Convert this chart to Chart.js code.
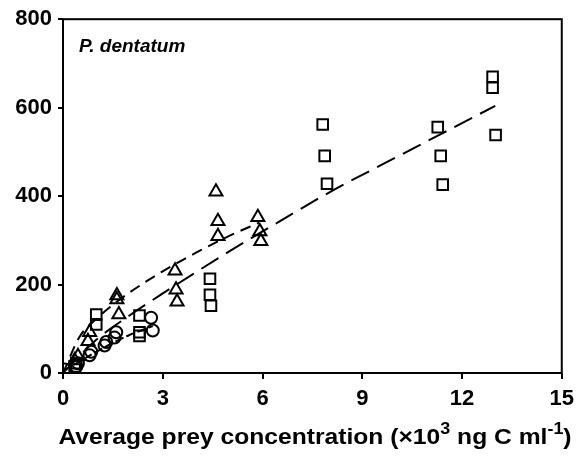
<!DOCTYPE html>
<html>
<head>
<meta charset="utf-8">
<script src="https://cdn.jsdelivr.net/npm/chart.js@4.4.1/dist/chart.umd.min.js"></script>
<style>
  body { margin: 0; background: #fff; }
  #wrap { width: 581px; height: 459px; }
</style>
</head>
<body>
<div id="wrap"><canvas id="myChart" width="581" height="459"></canvas></div>
<script>
// values (x = prey conc x10^3, y = ingestion)
var circleX = [0.05, 0.4, 0.45, 0.8, 0.85, 1.25, 1.3, 1.55, 1.6, 2.65, 2.7];
var circleY = [8, 14, 22, 40, 48, 62, 70, 80, 92, 125, 96];

var triX = [0.35, 0.45, 0.75, 0.8, 1.62, 1.62, 1.68, 3.37, 3.4, 3.43, 4.6, 4.66, 4.66, 5.86, 5.92, 5.95];
var triY = [28, 38, 72, 92, 175, 166, 132, 231, 188, 161, 410, 343, 309, 352, 320, 298];

var sqX = [0.35, 0.4, 1.0, 1.0, 2.3, 2.3, 2.3, 4.42, 4.42, 4.45, 7.81, 7.87, 7.94, 11.27, 11.36, 11.42, 12.92, 12.92, 13.01];
var sqY = [15, 22, 132, 110, 130, 92, 84, 213, 177, 152, 562, 491, 428, 556, 491, 426, 670, 645, 538];

// fitted curves, points
var circleFitX = [0, 0.5, 1, 1.5, 2, 2.7];
var circleFitY = [5, 26, 48, 68, 86, 106];
var triFitX = [0, 0.5, 1, 1.6, 2, 3, 4, 5, 5.9];
var triFitY = [0, 82, 122, 160, 182, 230, 272, 310, 340];
var sqFitX = [0, 1, 2, 3, 4, 5, 6, 8, 10, 12, 13];
var sqFitY = [0, 75, 130, 180, 228, 275, 320, 408, 487, 565, 604];

var xTicks = [0, 3, 6, 9, 12, 15];
var yTicks = [0, 200, 400, 600, 800];

var FONT = '"Liberation Sans", Arial, sans-serif';

function pts(xs, ys) {
     var out = [];
     for (var i = 0; i < xs.length; i++) out.push({ x: xs[i], y: ys[i] });
     return out;
}

function fitLine(xs, ys, dash) {
     return {
          type: 'line',
          data: pts(xs, ys),
          borderColor: '#000',
          borderWidth: 2,
          borderDash: dash,
          pointRadius: 0,
          fill: false,
          cubicInterpolationMode: 'monotone'
     };
}

function marks(xs, ys, style, r) {
     return {
          type: 'scatter',
          data: pts(xs, ys),
          pointStyle: style,
          pointRadius: r,
          pointBorderWidth: 2,
          pointBorderColor: '#000',
          pointBackgroundColor: 'rgba(0,0,0,0)',
          showLine: false
     };
}

// box round the plot, species label and x title with superscripts
var decor = {
     id: 'decor',
     afterDraw: function (chart) {
          var c = chart.ctx, a = chart.chartArea;
          c.save();
          c.strokeStyle = '#000';
          c.lineWidth = 2;
          c.strokeRect(a.left, a.top, a.right - a.left, a.bottom - a.top);

          c.fillStyle = '#000';
          c.textBaseline = 'alphabetic';
          c.font = 'italic bold 19px ' + FONT;
          c.fillText('P. dentatum', 79, 52);

          // the original title is a bit wider than plain Arial, stretch it
          var big = 'bold 22px ' + FONT, sup = 'bold 16px ' + FONT;
          var parts = [
               ['Average prey concentration (\u00d710', big, 0],
               ['3', sup, -10],
               [' ng C ml', big, 0],
               ['-1', sup, -10],
               [')', big, 0]
          ];
          var sx = 1.12;
          var w = 0;
          parts.forEach(function (p) { c.font = p[1]; w += c.measureText(p[0]).width; });
          c.translate(315 - w * sx / 2, 444);
          c.scale(sx, 1);
          var x = 0;
          parts.forEach(function (p) {
               c.font = p[1];
               c.fillText(p[0], x, p[2]);
               x += c.measureText(p[0]).width;
          });
          c.restore();
     }
};

new Chart('myChart', {
     data: {
          datasets: [
               fitLine(circleFitX, circleFitY, [9, 3]),
               fitLine(triFitX, triFitY, [11, 7]),
               fitLine(sqFitX, sqFitY, [20, 9]),
               marks(circleX, circleY, 'circle', 6),
               marks(triX, triY, 'triangle', 7.5),
               marks(sqX, sqY, 'rect', 7.5)
          ]
     },
     options: {
          responsive: false,
          animation: false,
          layout: { padding: { top: 17, right: 19 } },
          plugins: { legend: { display: false }, tooltip: { enabled: false } },
          scales: {
               x: {
                    type: 'linear',
                    min: 0, max: 15,
                    afterBuildTicks: function (s) { s.ticks = xTicks.map(function (v) { return { value: v }; }); },
                    afterFit: function (s) { s.height = 86; },
                    border: { display: false },
                    grid: { drawOnChartArea: false, drawTicks: true, tickLength: 6, color: '#000', lineWidth: 2 },
                    ticks: { color: '#000', padding: 7, font: { family: FONT, size: 22, weight: 'bold' } }
               },
               y: {
                    type: 'linear',
                    min: 0, max: 800,
                    afterBuildTicks: function (s) { s.ticks = yTicks.map(function (v) { return { value: v }; }); },
                    afterFit: function (s) { s.width = 63; },
                    border: { display: false },
                    grid: { drawOnChartArea: false, drawTicks: true, tickLength: 5, color: '#000', lineWidth: 2 },
                    ticks: { color: '#000', padding: 6, font: { family: FONT, size: 22, weight: 'bold' } }
               }
          }
     },
     plugins: [decor]
});
</script>
</body>
</html>
